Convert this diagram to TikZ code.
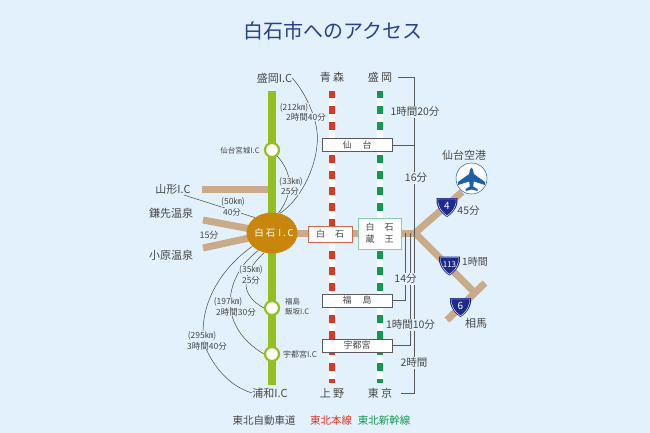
\documentclass[tikz,border=0pt]{standalone}
\usepackage{fontspec}
\setmainfont{Noto Sans CJK JP}
\usetikzlibrary{shapes,positioning,calc}
\definecolor{bgblue}{HTML}{E2F1FB}
\definecolor{roadgreen}{HTML}{93C01F}
\definecolor{roadtan}{HTML}{C9AB8A}
\definecolor{ovalgold}{HTML}{C8860C}
\definecolor{linered}{HTML}{D9391E}
\definecolor{linegreen}{HTML}{0F9A50}
\definecolor{titleblue}{HTML}{27408F}
\definecolor{signblue}{HTML}{1E2A8C}
\definecolor{planeblue}{HTML}{1F5FA8}
\definecolor{textgray}{HTML}{484848}
\begin{document}
\begin{tikzpicture}[
    x=1pt, y=-1pt,
    every node/.style={text=textgray, inner sep=0pt},
    expressway/.style={line width=8pt, roadgreen},
    road/.style={line width=7pt, roadtan},
    thinline/.style={line width=0.5pt, textgray},
    bracket/.style={line width=0.6pt, gray!70!black},
    place/.style={font=\fontsize{11}{11}\selectfont},
    sublabel/.style={font=\fontsize{8.5}{8.5}\selectfont, fill=bgblue, inner sep=0.5pt},
    timelabel/.style={font=\fontsize{10.5}{10.5}\selectfont, fill=bgblue, inner sep=1pt},
    icmark/.style={circle, draw=roadgreen, fill=white, line width=2.2pt, minimum size=14pt},
    station/.style={rectangle, draw=gray!70!black, fill=white, line width=0.8pt, minimum width=70pt, minimum height=13pt, font=\fontsize{9}{9}\selectfont},
    sign/.style={text=white, font=\fontsize{10}{10}\selectfont}
]
\useasboundingbox[fill=bgblue] (0,0) rectangle (650,433);

% Title
\node[text=titleblue, font=\fontsize{20}{20}\selectfont] (title) at (333,31) {白石市へのアクセス};

% Place names
\node[place] (moriokaic) at (274.5,78) {盛岡I.C};
\node[place] (uraic) at (270,393) {浦和I.C};
\node[place] (aomori) at (332,77) {青 森};
\node[place] (morioka) at (380,77) {盛 岡};
\node[place] (ueno) at (332,393) {上 野};
\node[place] (tokyo) at (380,393) {東 京};
\node[place] (yamagata) at (173,189) {山形I.C};
\node[place] (kamasaki) at (171,213) {鎌先温泉};
\node[place] (obara) at (171,255) {小原温泉};
\node[place] (airport) at (464,155) {仙台空港};
\node[place] (soma) at (476,323) {相馬};

% Roads
\coordinate (yamaroad) at (202,189);
\coordinate (kamaroad) at (203,220);
\coordinate (obararoad) at (203,248);
\coordinate (junction) at (415,233);
\coordinate (airroad) at (462,192);
\coordinate (southroad) at (473,291);
\coordinate (crossa) at (485,283);
\coordinate (crossb) at (447,320);
\coordinate (hub) at (272,233);
\draw[road] (yamaroad) -- (272,189);
\draw[road] (kamaroad) -- (hub);
\draw[road] (obararoad) -- (hub);
\draw[road] (hub) -- (junction);
\draw[road] (airroad) -- (junction) -- (southroad);
\draw[road] (crossa) -- (crossb);

% Tohoku Expressway
\coordinate (roadtop) at (272,91);
\coordinate (roadbottom) at (272,385);
\draw[expressway] (roadtop) -- (roadbottom);
\node[ellipse, fill=ovalgold, minimum width=51pt, minimum height=41pt] (shiroishiic) at (272,233) {};
\node[text=white, font=\fontsize{9.5}{9.5}\selectfont] (shiroishiiclabel) at (274,233) {白\hspace{2pt}石\hspace{3pt}I\hspace{2pt}.\hspace{2pt}C};
\node[icmark] (sendaiic) at (272,150) {};
\node[icmark] (fukushimaic) at (272,308) {};
\node[icmark] (utsunomiyaic) at (272,354) {};

% Rail lines
\foreach \railx/\railcolor/\railname in {332/linered/red, 380/linegreen/green} {
    \coordinate (\railname top) at (\railx,91);
    \coordinate (\railname bottom) at (\railx,383);
    \draw[line width=6.8pt, \railcolor] (\railname top) -- (\railname bottom);
    \draw[line width=5.6pt, white, dash pattern=on 8pt off 8pt, dash phase=-7.5pt] (\railname top) -- (\railname bottom);
}

% Stations
\node[station] (sendai) at (357,145) {仙\hspace{11pt}台};
\node[station] (fukushima) at (357,300.5) {福\hspace{11pt}島};
\node[station] (utsunomiya) at (357,345.5) {宇都宮};
\node[rectangle, draw=linered!60!roadtan, fill=white, line width=0.8pt, minimum width=44pt, minimum height=16pt, font=\fontsize{9}{9}\selectfont] (shiroishi) at (330,234) {白\hspace{10pt}石};
\node[rectangle, draw=linegreen!50!white, fill=white, line width=0.8pt, minimum width=43pt, minimum height=31pt, align=center, font=\fontsize{9}{12}\selectfont] (zao) at (379.5,233.5) {白\hspace{10pt}石\\蔵\hspace{10pt}王};

% Time brackets on the right
\coordinate (farcorner) at (414,77);
\coordinate (farbottom) at (414,393);
\coordinate (midtop) at (410,233);
\coordinate (neartop) at (405.5,233);
\draw[bracket] (morioka.east) ++(6,0) -- (farcorner) -- (farbottom) -- ($(tokyo.east)+(9,0)$);
\draw[bracket] (sendai.east) -- (sendai.east -| farcorner);
\draw[bracket] (neartop) -- (neartop |- fukushima.east) -- (fukushima.east);
\draw[bracket] (midtop) -- (midtop |- utsunomiya.east) -- (utsunomiya.east);
\node[timelabel] (timea) at (415,112) {1時間20分};
\node[timelabel] (timeb) at (416,178) {16分};
\node[timelabel] (timec) at (405.5,279) {14分};
\node[timelabel] (timed) at (410.5,325) {1時間10分};
\node[timelabel] (timee) at (414,363) {2時間};

% Curved distance lines
\draw[thinline] (moriokaic.east) .. controls (308,96) and (320,125) .. (317,145) .. controls (315,170) and (300,200) .. (shiroishiic.68);
\draw[thinline] (sendaiic.-50) .. controls (290,170) and (296,190) .. (shiroishiic.72);
\draw[thinline] (yamagata.east) ++(-7,6) -- (shiroishiic.138);
\draw[thinline] (shiroishiic.214) .. controls (205,280) and (195,330) .. (209,355) .. controls (220,375) and (235,388) .. (uraic.west);
\draw[thinline] (shiroishiic.232) .. controls (225,275) and (215,325) .. (utsunomiyaic.west);
\draw[thinline] (shiroishiic.248) .. controls (240,275) and (240,295) .. (fukushimaic.west);

% Distance labels
\node[sublabel] (dista) at (294,108) {(212㎞)};
\node[sublabel] (distb) at (306,117) {2時間40分};
\node[sublabel] (distc) at (291,182) {(33㎞)};
\node[sublabel] (distd) at (290,191) {25分};
\node[sublabel] (diste) at (233,202) {(50㎞)};
\node[sublabel] (distf) at (232,212) {40分};
\node[sublabel, font=\fontsize{9}{9}\selectfont] (distg) at (209,235) {15分};
\node[sublabel] (disth) at (251,270) {(35㎞)};
\node[sublabel] (disti) at (251,280) {25分};
\node[sublabel] (distj) at (228,302) {(197㎞)};
\node[sublabel] (distk) at (236,312) {2時間30分};
\node[sublabel] (distl) at (202,336) {(295㎞)};
\node[sublabel] (distm) at (207,346) {3時間40分};

% IC labels
\node[font=\fontsize{7.5}{7.5}\selectfont] (sendailabel) at (240,151) {仙台宮城I.C};
\node[font=\fontsize{7.5}{10}\selectfont, align=left, anchor=west] (fukushimalabel) at (285,307) {福島\\飯坂I.C};
\node[font=\fontsize{8}{8}\selectfont, anchor=west] (utsunomiyalabel) at (283,354) {宇都宮I.C};

% Airport
\node[circle, draw=planeblue, fill=white, line width=0.5pt, minimum size=31pt] (plane) at (471.5,178.5) {};
\fill[planeblue] (471.5,167.5) .. controls (473,169) and (473.8,171) .. (473.8,174)
    -- (485,182) -- (485,185) -- (473.8,181.5) -- (473.2,186.5) -- (477.5,189) -- (477.5,191)
    -- (471.5,189.5) -- (465.5,191) -- (465.5,189) -- (469.8,186.5) -- (469.2,181.5) -- (458,185) -- (458,182) -- (469.2,174)
    .. controls (469.2,171) and (470,169) .. cycle;

% Route signs
\foreach \signx/\signy/\signname/\signtext/\signsize in {447/207/signa/4/10, 449.5/265.5/signb/113/8, 460.5/307/signc/6/10} {
    \fill[signblue] (\signx-10.5,\signy-9) -- (\signx+10.5,\signy-9) .. controls (\signx+11.5,\signy-3) and (\signx+8,\signy+5) .. (\signx,\signy+10) .. controls (\signx-8,\signy+5) and (\signx-11.5,\signy-3) .. cycle;
    \draw[white, line width=0.4pt] (\signx-9,\signy-8) -- (\signx+9,\signy-8) .. controls (\signx+10,\signy-3) and (\signx+7,\signy+4) .. (\signx,\signy+8.8) .. controls (\signx-7,\signy+4) and (\signx-10,\signy-3) .. cycle;
    \node[sign, font=\fontsize{\signsize}{\signsize}\selectfont] (\signname) at (\signx,\signy-1) {\signtext};
}
\node[place, font=\fontsize{10.5}{10.5}\selectfont] (timeair) at (468.5,211) {45分};
\node[place, font=\fontsize{10}{10}\selectfont] (timesouth) at (475,262) {1時間};

% Legend
\node[font=\fontsize{10.5}{10.5}\selectfont] (legenda) at (264,421) {東北自動車道};
\node[text=linered, font=\fontsize{10.5}{10.5}\selectfont] (legendb) at (331,421) {東北本線};
\node[text=linegreen, font=\fontsize{10.5}{10.5}\selectfont] (legendc) at (384,421) {東北新幹線};

\end{tikzpicture}
\end{document}
